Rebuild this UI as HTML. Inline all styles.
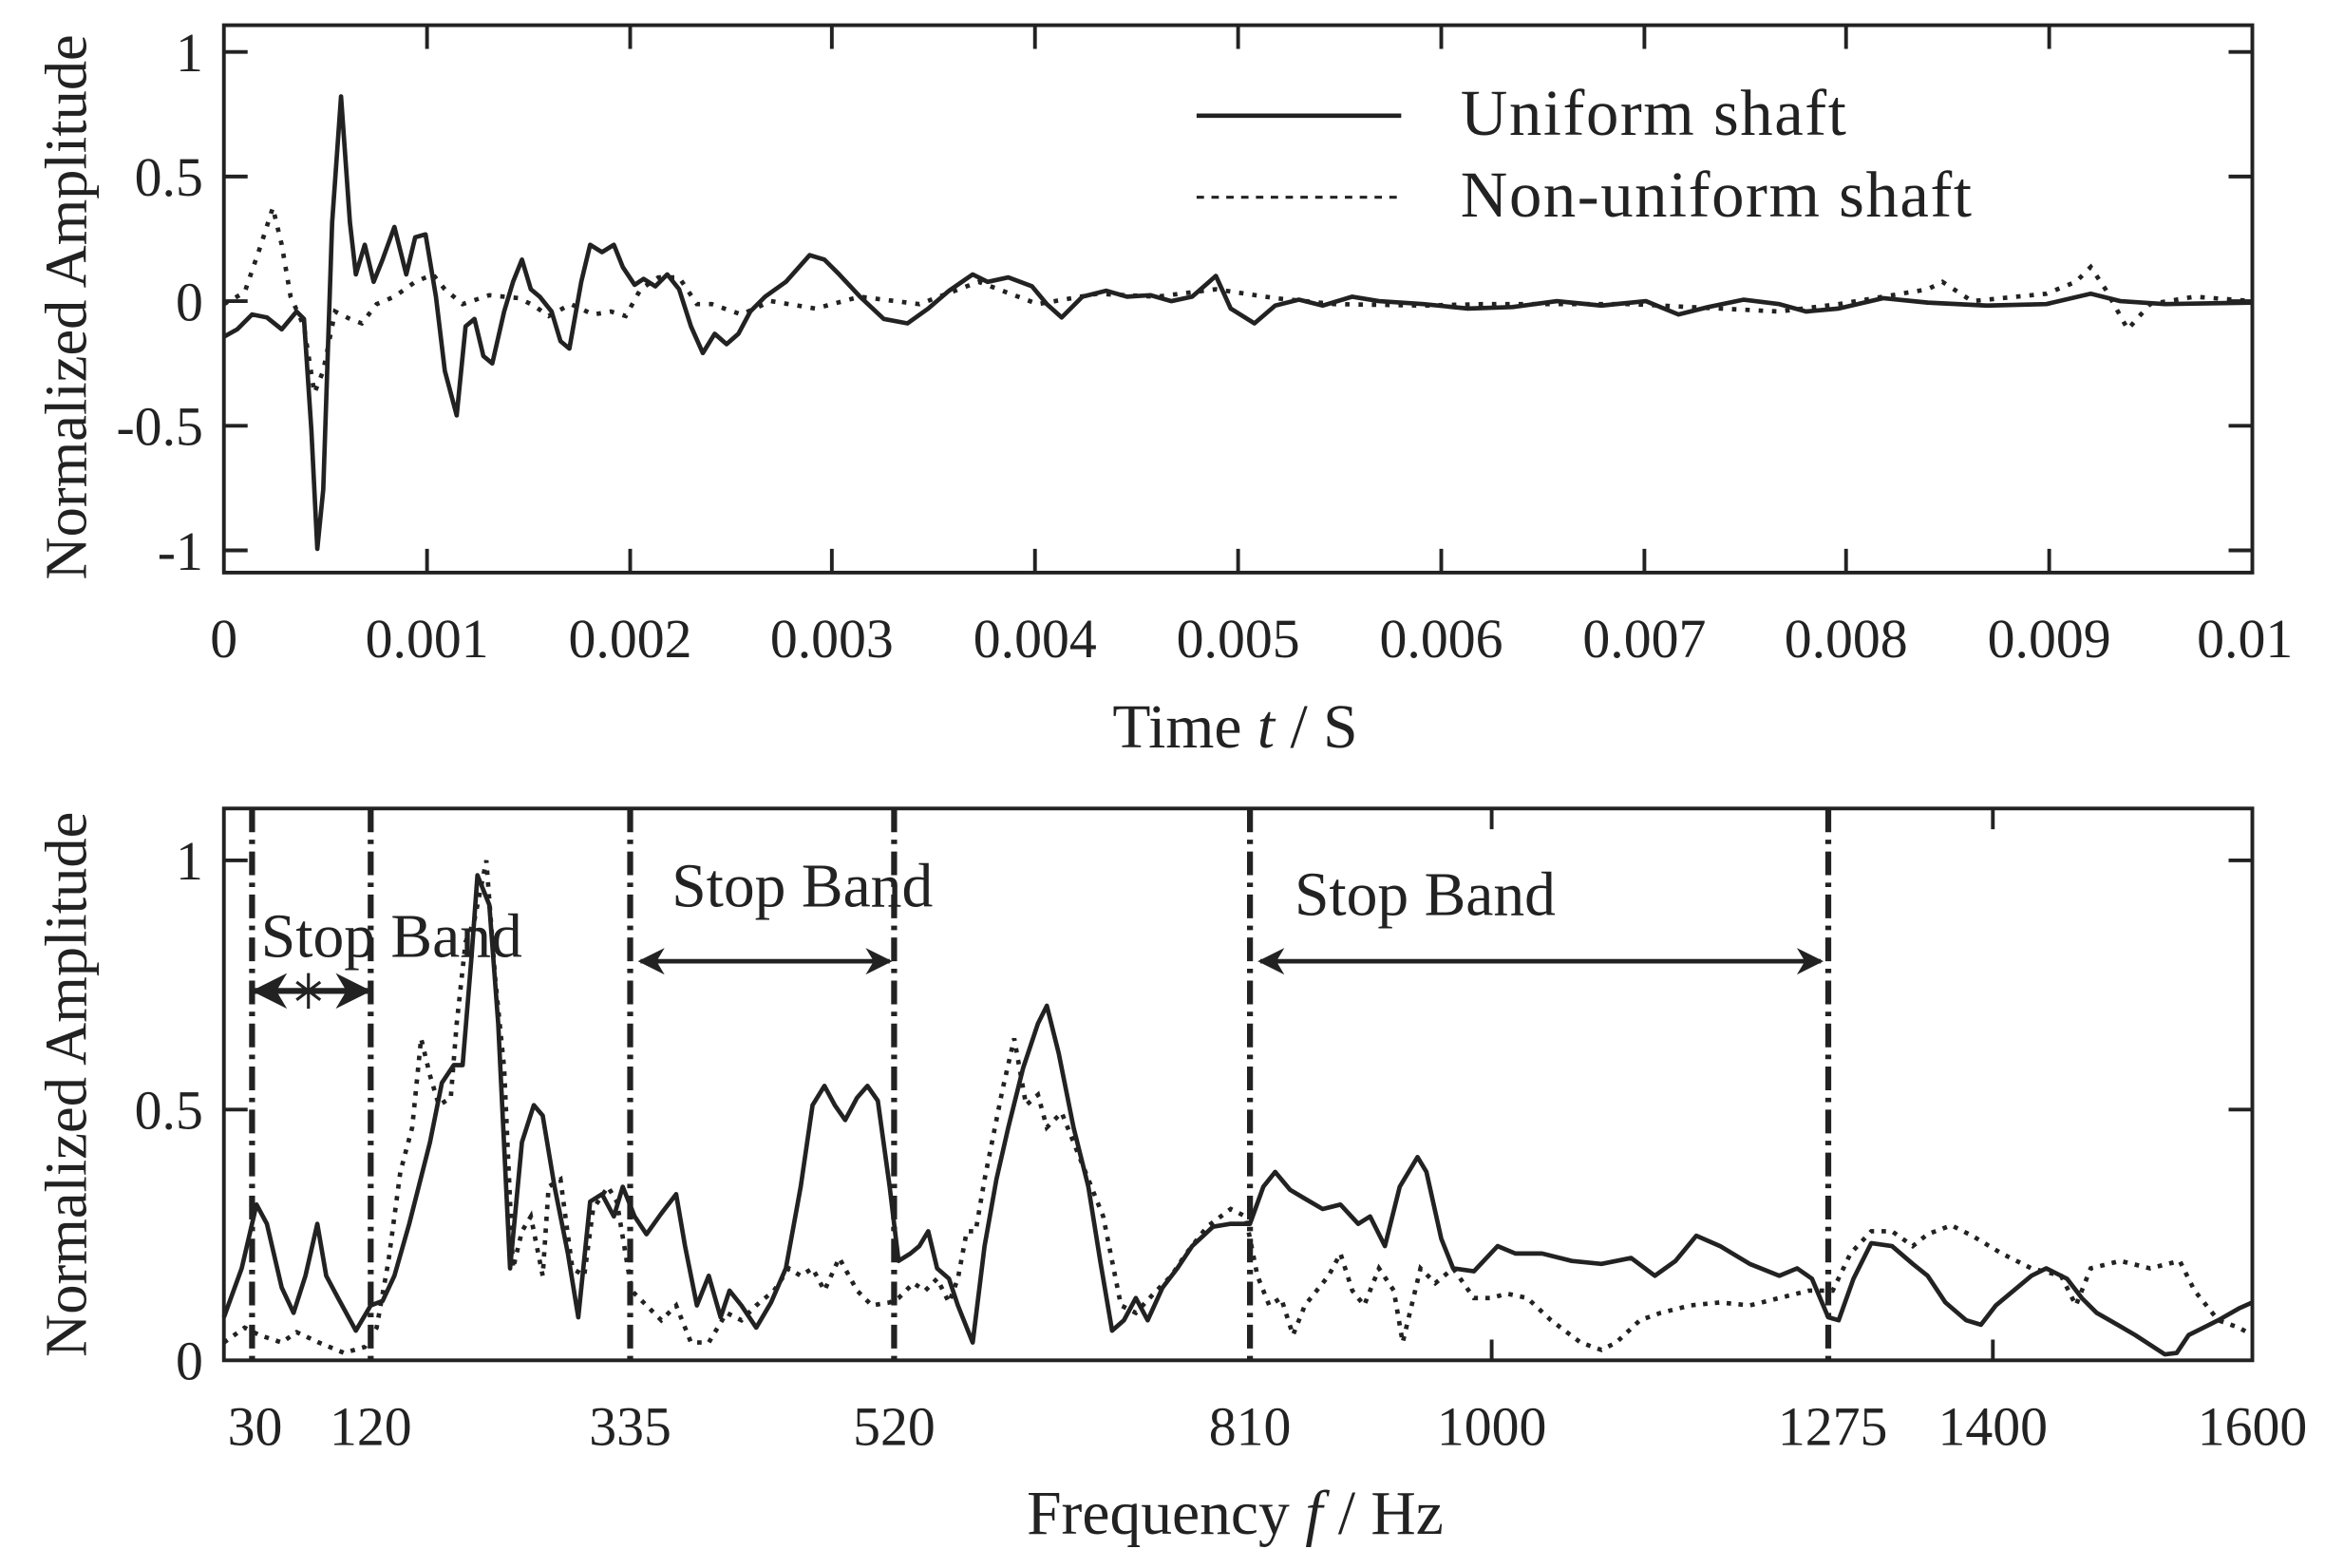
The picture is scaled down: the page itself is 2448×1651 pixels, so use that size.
<!DOCTYPE html>
<html><head><meta charset="utf-8"><style>html,body{margin:0;padding:0;background:#fff}svg{display:block}text{font-family:"Liberation Serif",serif;fill:#222}</style></head>
<body>
<svg width="2448" height="1651" viewBox="0 0 1568 1057" preserveAspectRatio="none" xmlns="http://www.w3.org/2000/svg">
<defs><marker id="ah" viewBox="0 0 10 10" refX="9" refY="5" markerWidth="7" markerHeight="6" orient="auto-start-reverse" markerUnits="strokeWidth"><path d="M0,0 L10,5 L0,10 L3,5 z" fill="#222"/></marker></defs>
<g stroke="#222" fill="none" stroke-width="2.5">
<rect x="151" y="17" width="1368" height="369"/>
<rect x="151" y="545" width="1368" height="372"/>
</g>
<g stroke="#222" stroke-width="2.5">
<path d="M151,35h16M151,119h16M151,203h16M151,287h16M151,371h16M1519,35h-16M1519,119h-16M1519,203h-16M1519,287h-16M1519,371h-16"/>
<path d="M288,17v16M425,17v16M561,17v16M698,17v16M835,17v16M972,17v16M1109,17v16M1245,17v16M1382,17v16M288,386v-16M425,386v-16M561,386v-16M698,386v-16M835,386v-16M972,386v-16M1109,386v-16M1245,386v-16M1382,386v-16"/>
<path d="M151,580h16M151,748h16M1519,580h-16M1519,748h-16M1006,917v-14M1344,917v-14M1006,545v14M1344,545v14"/>
</g>
<g font-size="37" text-anchor="end">
<text x="137" y="48">1</text><text x="137" y="132">0.5</text><text x="137" y="216">0</text><text x="137" y="300">-0.5</text><text x="137" y="384">-1</text>
<text x="137" y="593">1</text><text x="137" y="761">0.5</text><text x="137" y="930">0</text>
</g>
<g font-size="37" text-anchor="middle">
<text x="151" y="443">0</text><text x="288" y="443">0.001</text><text x="425" y="443">0.002</text><text x="561" y="443">0.003</text><text x="698" y="443">0.004</text><text x="835" y="443">0.005</text><text x="972" y="443">0.006</text><text x="1109" y="443">0.007</text><text x="1245" y="443">0.008</text><text x="1382" y="443">0.009</text><text x="1514" y="443">0.01</text>
<text x="172" y="974">30</text><text x="250" y="974">120</text><text x="425" y="974">335</text><text x="603" y="974">520</text><text x="843" y="974">810</text><text x="1006" y="974">1000</text><text x="1236" y="974">1275</text><text x="1344" y="974">1400</text><text x="1519" y="974">1600</text>
</g>
<g font-size="42" text-anchor="middle">
<text x="833" y="504">Time <tspan font-style="italic">t</tspan> / S</text>
<text x="833" y="1034">Frequency <tspan font-style="italic">f</tspan> / Hz</text>
<text transform="translate(58,207) rotate(-90)" font-size="40">Normalized Amplitude</text>
<text transform="translate(58,731) rotate(-90)" font-size="40">Normalized Amplitude</text>
</g>
<g stroke="#222" fill="none" stroke-width="3">
<path d="M807,78h138"/><path d="M807,133h138" stroke-dasharray="5,5" stroke-width="2"/>
</g>
<text x="985" y="91" font-size="44" letter-spacing="1">Uniform shaft</text>
<text x="985" y="146" font-size="44" letter-spacing="1">Non-uniform shaft</text>
<polyline fill="none" stroke="#222" stroke-width="3" stroke-linejoin="round" points="151,227 160,222 170,212 180,214 190,222 200,210 205,215 210,290 214,370 218,330 224,150 230,65 236,150 240,185 246,165 252,190 258,175 266,153 274,185 280,160 287,158 294,200 300,250 308,280 314,220 320,215 326,240 332,245 340,210 346,190 352,175 358,195 364,200 372,210 378,230 384,235 392,190 398,165 406,170 414,165 420,180 428,192 434,188 442,193 450,185 458,195 466,220 474,238 482,225 490,232 498,225 506,210 516,200 530,190 546,172 556,175 566,185 580,200 596,215 612,218 626,208 640,196 656,185 666,190 680,187 696,193 706,205 716,214 730,200 746,196 760,200 776,199 790,203 804,200 820,186 830,208 846,218 860,206 876,202 892,206 912,200 930,203 960,205 990,208 1020,207 1050,203 1080,206 1110,203 1132,212 1152,207 1176,202 1200,205 1218,210 1240,208 1270,201 1300,204 1340,206 1380,205 1410,198 1430,203 1460,205 1519,204"/>
<polyline fill="none" stroke="#222" stroke-width="3" stroke-dasharray="3,6" points="151,205 165,197 176,165 184,140 190,165 196,200 205,220 212,265 218,250 226,210 236,215 244,218 254,205 266,200 280,190 292,185 300,195 312,205 330,199 350,201 360,206 370,213 385,205 400,212 412,210 422,213 432,195 444,187 458,187 470,205 480,205 500,212 520,203 550,208 580,200 620,205 660,190 700,205 740,198 780,200 820,195 860,201 900,205 960,206 1000,205 1100,205 1200,210 1240,205 1270,200 1300,195 1310,190 1330,203 1360,200 1380,198 1400,190 1410,180 1420,195 1435,222 1450,205 1480,200 1519,203"/>
<polyline fill="none" stroke="#222" stroke-width="3" stroke-linejoin="round" points="151,888 163,855 173,812 180,825 190,868 198,885 206,860 214,825 220,860 228,875 240,897 250,880 258,877 266,860 276,825 290,770 298,730 306,718 312,718 318,645 322,590 330,610 336,690 344,855 352,770 360,745 366,752 374,800 383,845 390,888 398,810 406,805 414,820 420,800 428,820 436,832 446,818 456,805 462,840 470,880 478,860 486,888 492,870 500,880 510,895 520,878 530,855 540,800 548,745 556,732 563,745 570,755 578,740 585,732 592,742 600,800 606,850 614,845 620,840 626,830 632,855 640,862 646,880 656,905 664,840 672,795 680,760 690,720 700,690 706,678 714,710 724,760 734,800 742,850 750,897 758,890 766,875 774,890 784,868 794,855 804,840 818,827 830,825 843,825 852,800 860,790 870,802 880,808 892,815 904,812 916,825 924,820 934,840 944,800 956,780 962,790 972,835 980,855 994,857 1010,840 1022,845 1040,845 1060,850 1080,852 1100,848 1116,860 1130,850 1144,833 1160,840 1180,852 1200,860 1212,855 1222,862 1233,888 1240,890 1250,862 1262,838 1276,840 1290,852 1300,860 1312,878 1326,890 1336,893 1346,880 1358,870 1370,860 1380,855 1394,862 1404,875 1414,885 1428,893 1440,900 1460,913 1468,912 1476,900 1496,890 1510,882 1519,878"/>
<polyline fill="none" stroke="#222" stroke-width="3" stroke-dasharray="3,5" points="151,905 165,895 175,900 190,905 200,898 215,905 232,912 246,908 254,895 262,850 270,790 278,760 284,700 290,725 296,745 304,740 308,690 314,635 320,620 328,580 334,660 340,720 346,855 352,830 358,820 366,860 370,800 378,795 386,855 394,860 400,815 410,800 416,810 426,870 436,880 446,890 456,880 466,905 478,905 490,885 500,890 510,880 522,870 532,855 540,860 548,855 556,870 566,848 578,870 588,880 600,878 606,875 616,865 624,870 632,862 640,878 646,862 652,830 658,830 664,795 670,765 676,735 684,700 692,745 700,738 706,760 716,750 724,770 736,800 744,820 756,880 766,885 780,870 790,860 800,845 814,827 830,815 840,820 848,860 856,880 864,875 872,900 880,880 888,870 896,860 904,845 912,870 920,880 930,855 940,870 946,905 952,880 958,855 968,865 980,855 994,875 1006,875 1016,872 1030,875 1046,890 1066,905 1080,910 1090,905 1106,890 1120,885 1140,880 1160,878 1180,880 1200,875 1220,870 1236,870 1248,845 1262,830 1276,830 1290,840 1300,832 1316,826 1330,833 1350,845 1370,855 1390,860 1400,880 1410,855 1430,850 1450,855 1470,850 1480,870 1496,890 1510,895 1519,900"/>
<g stroke="#222" stroke-width="4" stroke-dasharray="16,5,3,5" fill="none">
<path d="M170,545V917M250,545V917M425,545V917M603,545V917M843,545V917M1233,545V917"/>
</g>
<g stroke="#222" stroke-width="3" fill="none">
<path d="M172,668H248" marker-start="url(#ah)" marker-end="url(#ah)" stroke-width="4"/>
<path d="M432,648H600" marker-start="url(#ah)" marker-end="url(#ah)"/>
<path d="M850,648H1228" marker-start="url(#ah)" marker-end="url(#ah)"/>
<path d="M208,656v24M200,662l16,12M216,662l-16,12" stroke-width="2"/>
</g>
<g font-size="42">
<text x="176" y="645">Stop Band</text>
<text x="453" y="611">Stop Band</text>
<text x="873" y="617">Stop Band</text>
</g>
</svg>
</body></html>
